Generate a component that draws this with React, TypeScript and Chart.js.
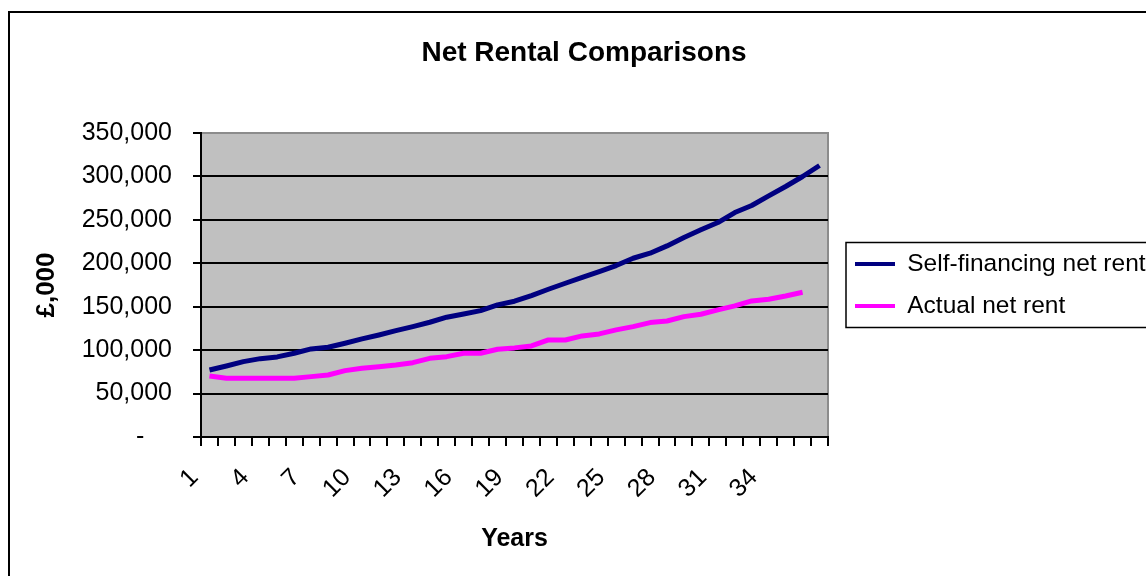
import React, { useEffect, useRef } from 'react';
import { Chart, registerables } from 'chart.js';

Chart.register(...registerables);

// Year index along the category axis; the last self-financing value has no year label.
const years = [
  '1', '2', '3', '4', '5', '6', '7', '8', '9', '10',
  '11', '12', '13', '14', '15', '16', '17', '18', '19', '20',
  '21', '22', '23', '24', '25', '26', '27', '28', '29', '30',
  '31', '32', '33', '34', '35', '36', '',
];

// Net rent in £,000 per year
const selfFinancingNetRent = [
  77200, 81800, 86800, 90200, 92200, 96400, 101400, 103300, 107900, 112900,
  117500, 122500, 127100, 132100, 137900, 141700, 145500, 152100, 156300, 162800,
  170100, 177000, 183900, 190500, 197400, 205800, 211600, 220000, 229600, 238500,
  246900, 258400, 266500, 277600, 288400, 299900, 312600,
];

const actualNetRent = [
  70300, 67600, 67600, 67600, 67600, 67600, 69500, 71400, 76400, 79100,
  81000, 82900, 85600, 90600, 92500, 96400, 96400, 101000, 102600, 104800,
  111700, 111700, 116400, 118700, 123300, 127100, 131700, 133600, 138600, 141300,
  146300, 150900, 156700, 158600, 162400, 166700,
];

const yMax = 350000;
const yStep = 50000;
const labelEvery = 3;

const FONT = '"Liberation Sans", Arial, Helvetica, sans-serif';

// Excel-style accounting format: zero shows as a dash
const formatPounds = (v: number) =>
  v === 0 ? '-    ' : v.toLocaleString('en-US');

const LEGEND_PAD = 17.5;

const chartFrame = {
  id: 'chartFrame',
  afterLayout(chart: any) {
    // leave a gap between the plot area and the legend box
    const lg = chart.legend;
    if (lg) {
      lg.left += 9.5;
      lg.right += 9.5;
    }
  },
  beforeDraw(chart: any) {
    const { ctx, chartArea: a, width, height } = chart;
    ctx.save();
    ctx.fillStyle = '#ffffff';
    ctx.fillRect(0, 0, width, height);
    // outer chart border
    ctx.strokeStyle = '#000000';
    ctx.lineWidth = 2;
    ctx.beginPath();
    ctx.moveTo(9, height + 10);
    ctx.lineTo(9, 12);
    ctx.lineTo(width + 10, 12);
    ctx.stroke();
    // plot area
    ctx.fillStyle = '#C0C0C0';
    ctx.fillRect(a.left, a.top, a.right - a.left, a.bottom - a.top);
    ctx.strokeStyle = '#8c8c8c';
    ctx.lineWidth = 2;
    ctx.strokeRect(a.left, a.top, a.right - a.left, a.bottom - a.top);
    ctx.restore();
  },
  afterDraw(chart: any) {
    const { ctx, chartArea: a } = chart;
    const lg = chart.legend;
    if (!lg || !lg.columnSizes || !lg.columnSizes.length) return;
    const colH = lg.columnSizes[0].height;
    const cy = (a.top + a.bottom) / 2;
    ctx.save();
    ctx.strokeStyle = '#000000';
    ctx.lineWidth = 1.5;
    ctx.strokeRect(lg.left + 8.5, cy - colH / 2 - 0.5, 400, colH + 1);
    ctx.restore();
  },
};

export default function App() {
  const canvasRef = useRef<HTMLCanvasElement | null>(null);

  useEffect(() => {
    if (!canvasRef.current) return;
    Chart.defaults.font.family = FONT;
    Chart.defaults.color = '#000000';

    const chart = new Chart(canvasRef.current, {
      type: 'line',
      data: {
        labels: years,
        datasets: [
          {
            label: 'Self-financing net rent',
            data: selfFinancingNetRent,
            borderColor: '#000080',
            backgroundColor: '#000080',
            borderWidth: 5,
            pointRadius: 0,
            tension: 0,
            borderJoinStyle: 'round',
          },
          {
            label: 'Actual net rent',
            data: actualNetRent,
            borderColor: '#FF00FF',
            backgroundColor: '#FF00FF',
            borderWidth: 5,
            pointRadius: 0,
            tension: 0,
            borderJoinStyle: 'round',
          },
        ],
      },
      options: {
        responsive: false,
        animation: false,
        events: [],
        devicePixelRatio: 1,
        layout: { padding: { left: 22, right: 14, top: 12, bottom: 0 } },
        plugins: {
          title: {
            display: true,
            text: 'Net Rental Comparisons',
            color: '#000000',
            font: { family: FONT, size: 28, weight: 'bold' },
            padding: { top: 24, bottom: 63.4 },
          },
          legend: {
            display: true,
            position: 'right',
            fullSize: false,
            maxWidth: 318,
            labels: {
              color: '#000000',
              font: { family: FONT, size: 24.5 },
              boxWidth: 40,
              boxHeight: 4,
              padding: LEGEND_PAD,
              generateLabels: (c: any) =>
                Chart.defaults.plugins.legend.labels
                  .generateLabels(c)
                  .map((item: any) => ({ ...item, lineWidth: 0, fillStyle: item.strokeStyle })),
            },
          },
          tooltip: { enabled: false },
        },
        scales: {
          x: {
            type: 'category',
            offset: true,
            afterFit: (scale: any) => {
              scale.height = 139;
            },
            grid: {
              display: true,
              offset: true,
              drawOnChartArea: false,
              drawTicks: true,
              tickLength: 9,
              color: '#000000',
              tickColor: '#000000',
              lineWidth: 2,
            },
            border: { display: true, color: '#000000', width: 2 },
            ticks: {
              autoSkip: false,
              minRotation: 45,
              maxRotation: 45,
              padding: 17,
              labelOffset: -15,
              color: '#000000',
              font: { family: FONT, size: 25 },
              callback: (_v: any, index: number) =>
                index % labelEvery === 0 ? years[index] : '',
            },
            title: {
              display: true,
              text: 'Years',
              color: '#000000',
              font: { family: FONT, size: 25, weight: 'bold' },
              padding: { top: 0, bottom: 22 },
            },
          },
          y: {
            min: 0,
            max: yMax,
            afterFit: (scale: any) => {
              scale.width = 179;
            },
            grid: {
              display: true,
              drawTicks: true,
              tickLength: 8,
              lineWidth: 2,
              color: (ctx: any) => (ctx.tick && ctx.tick.value === yMax ? '#8c8c8c' : '#000000'),
              tickColor: '#000000',
            },
            border: { display: true, color: '#000000', width: 2 },
            ticks: {
              stepSize: yStep,
              padding: 21,
              color: '#000000',
              font: { family: FONT, size: 25 },
              callback: (v: any) => formatPounds(Number(v)),
            },
            title: {
              display: true,
              text: '£,000',
              color: '#000000',
              font: { family: FONT, size: 26, weight: 'bold' },
              padding: { top: 9, bottom: 0 },
            },
          },
        },
      },
      plugins: [chartFrame],
    } as any);

    return () => {
      chart.destroy();
    };
  }, []);

  return (
    <div
      style={{
        position: 'absolute',
        left: 0,
        top: 0,
        width: 1146,
        height: 576,
        overflow: 'hidden',
        background: '#ffffff',
      }}
    >
      <canvas ref={canvasRef} width={1160} height={576} style={{ display: 'block' }} />
    </div>
  );
}
